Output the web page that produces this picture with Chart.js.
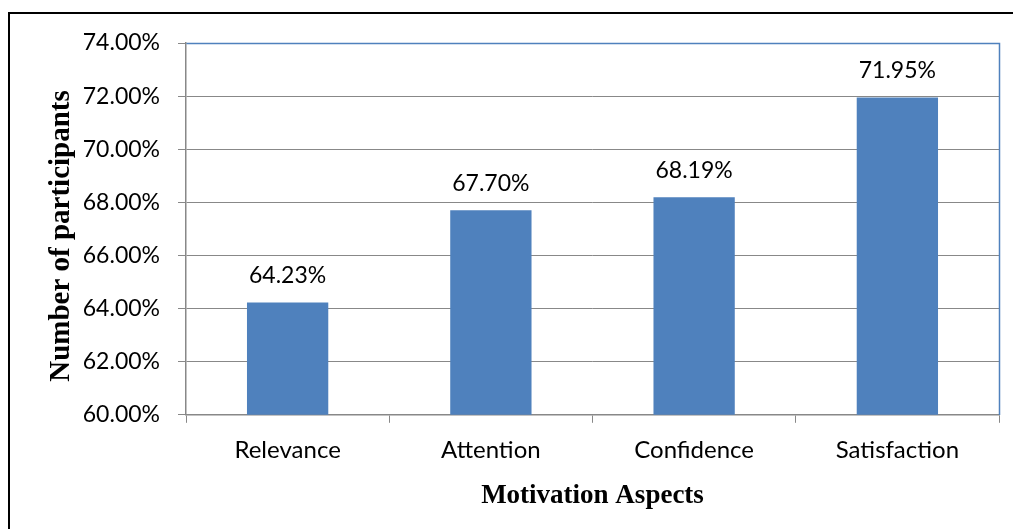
<!DOCTYPE html>
<html>
<head>
<meta charset="utf-8">
<script src="https://cdn.jsdelivr.net/npm/chart.js@4/dist/chart.umd.min.js"></script>
<style>
  html, body { margin: 0; padding: 0; background: #fff; overflow: hidden; }
  #wrap { position: relative; width: 1013px; height: 529px; }
  #frame { position: absolute; left: 8px; top: 12px; width: 1100px; height: 600px;
           border-left: 2px solid #000; border-top: 2px solid #000; }
  canvas { position: absolute; left: 0; top: 0; }
</style>
</head>
<body>
<div id="wrap">
  <div id="frame"></div>
  <canvas id="barChart" width="1013" height="529"></canvas>
</div>
<script>
const categories = ['Relevance', 'Attention', 'Confidence', 'Satisfaction'];
const values = [64.23, 67.70, 68.19, 71.95];
const yMin = 60;
const yMax = 74;
const yStep = 2;
const xTitle = 'Motivation Aspects';
const yTitle = 'Number of participants';

const sansFamily = 'Lato, "Open Sans", sans-serif';
const serifFamily = '"Liberation Serif", "Times New Roman", serif';

// value labels, the y title and the blue top/right edge of the plot area
const extras = {
    id: 'extras',
    afterDatasetsDraw(chart) {
        const ctx = chart.ctx;
        const meta = chart.getDatasetMeta(0);
        ctx.save();
        ctx.font = '23px ' + sansFamily;
        ctx.fillStyle = '#000';
        ctx.textAlign = 'center';
        ctx.textBaseline = 'middle';
        meta.data.forEach(function(bar, i) {
            ctx.fillText(values[i].toFixed(2) + '%', bar.x, bar.y - 27);
        });

        const a = chart.chartArea;
        ctx.strokeStyle = '#4F81BD';
        ctx.lineWidth = 1.5;
        ctx.beginPath();
        ctx.moveTo(Math.round(a.left) + 0.5, Math.round(a.top) + 0.5);
        ctx.lineTo(Math.round(a.right) + 0.5, Math.round(a.top) + 0.5);
        ctx.lineTo(Math.round(a.right) + 0.5, Math.round(a.bottom));
        ctx.stroke();

        // y title, sits a little below the axis centre like the original
        ctx.translate(62, 236);
        ctx.rotate(-Math.PI / 2);
        ctx.font = 'bold 29px ' + serifFamily;
        ctx.fillText(yTitle, 0, 0);
        ctx.restore();
    }
};

const ctx = document.getElementById('barChart').getContext('2d');
new Chart(ctx, {
    type: 'bar',
    data: {
        labels: categories,
        datasets: [{
            data: values,
            backgroundColor: '#4F81BD',
            borderWidth: 0,
            barPercentage: 0.4,
            categoryPercentage: 1.0
        }]
    },
    options: {
        responsive: false,
        animation: false,
        layout: {
            padding: { left: 0, right: 14, top: 43, bottom: 17 }
        },
        plugins: {
            legend: { display: false },
            tooltip: { enabled: false }
        },
        scales: {
            y: {
                min: yMin,
                max: yMax,
                afterFit(axis) { axis.width = 186; },
                ticks: {
                    stepSize: yStep,
                    color: '#000',
                    font: { family: sansFamily, size: 23 },
                    padding: 18,
                    callback: function(v) { return v.toFixed(2) + '%'; }
                },
                grid: {
                    color: '#888',
                    tickColor: '#888',
                    tickLength: 8,
                    lineWidth: 1
                },
                border: { color: '#888', width: 1.5 }
            },
            x: {
                ticks: {
                    color: '#000',
                    font: { family: sansFamily, size: 24 },
                    padding: 13
                },
                grid: {
                    drawOnChartArea: false,
                    color: '#888',
                    tickColor: '#888',
                    tickLength: 8
                },
                border: { color: '#888', width: 1.5 },
                title: {
                    display: true,
                    text: xTitle,
                    color: '#000',
                    font: { family: serifFamily, size: 27, weight: 'bold' },
                    padding: { top: 2, bottom: 0 }
                }
            }
        }
    },
    plugins: [extras]
});
</script>
</body>
</html>
